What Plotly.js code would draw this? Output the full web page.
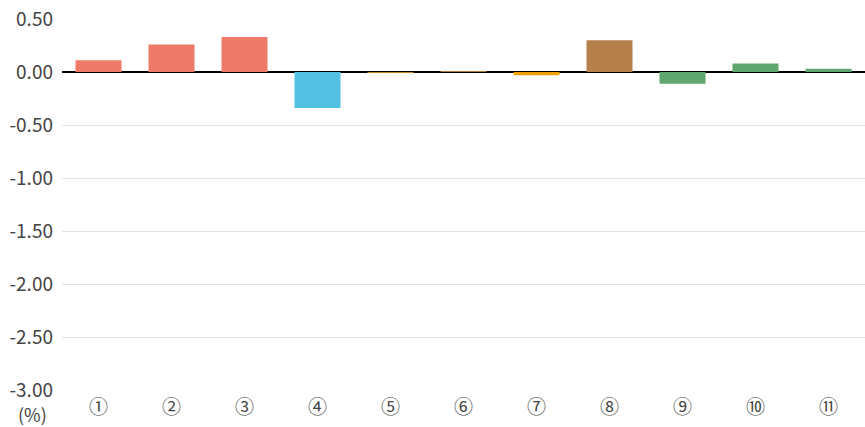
<!DOCTYPE html>
<html><head><meta charset="utf-8">
<script src="https://cdn.plot.ly/plotly-3.0.1.min.js"></script>
<style>html,body{margin:0;padding:0;background:#fff}#c{width:865px;height:427px}</style>
</head><body><div id="c"></div>
<script>
const categories = ['①','②','③','④','⑤','⑥','⑦','⑧','⑨','⑩','⑪'];
const values = [0.11, 0.26, 0.33, -0.34, -0.01, 0.01, -0.03, 0.30, -0.11, 0.08, 0.03];
const colors = ['#ee7b6a','#ee7b6a','#ee7b6a','#53c1e2','#c8862a','#b07a3c','#f0a000','#b5804a','#5fa76e','#5fa76e','#5fa76e'];
const tickVals = [0.5, 0, -0.5, -1, -1.5, -2, -2.5, -3];
const tickText = ['0.50','0.00','-0.50','-1.00','-1.50','-2.00','-2.50','-3.00'];

Plotly.newPlot('c', [{
  type: 'bar', x: categories, y: values,
  marker: {color: colors},
  hoverinfo: 'none'
}], {
  width: 865, height: 427,
  margin: {l: 62, r: 0, t: 19, b: 37},
  paper_bgcolor: '#fff', plot_bgcolor: '#fff',
  bargap: 0.37,
  font: {family: 'Noto Sans CJK JP, sans-serif', color: '#444'},
  xaxis: {type: 'category', tickfont: {size: 19, color: '#444', family: 'Noto Sans CJK JP'}, showgrid: false, zeroline: false, showline: false, ticks: '', ticklabelstandoff: 4},
  yaxis: {range: [-3, 0.5], tickvals: tickVals, ticktext: tickText, tickfont: {size: 19, color: '#444'},
    gridcolor: '#e2e2e2', gridwidth: 1, zeroline: true, zerolinecolor: '#000', zerolinewidth: 1.5, ticks: '', ticklabelstandoff: 8},
  annotations: [{text: '(%)', xref: 'paper', yref: 'paper', x: 0, y: 0, xanchor: 'right', yanchor: 'top', xshift: -13, yshift: -9, showarrow: false, font: {size: 18, color: '#444'}}],
  showlegend: false
}, {staticPlot: true});
</script></body></html>
